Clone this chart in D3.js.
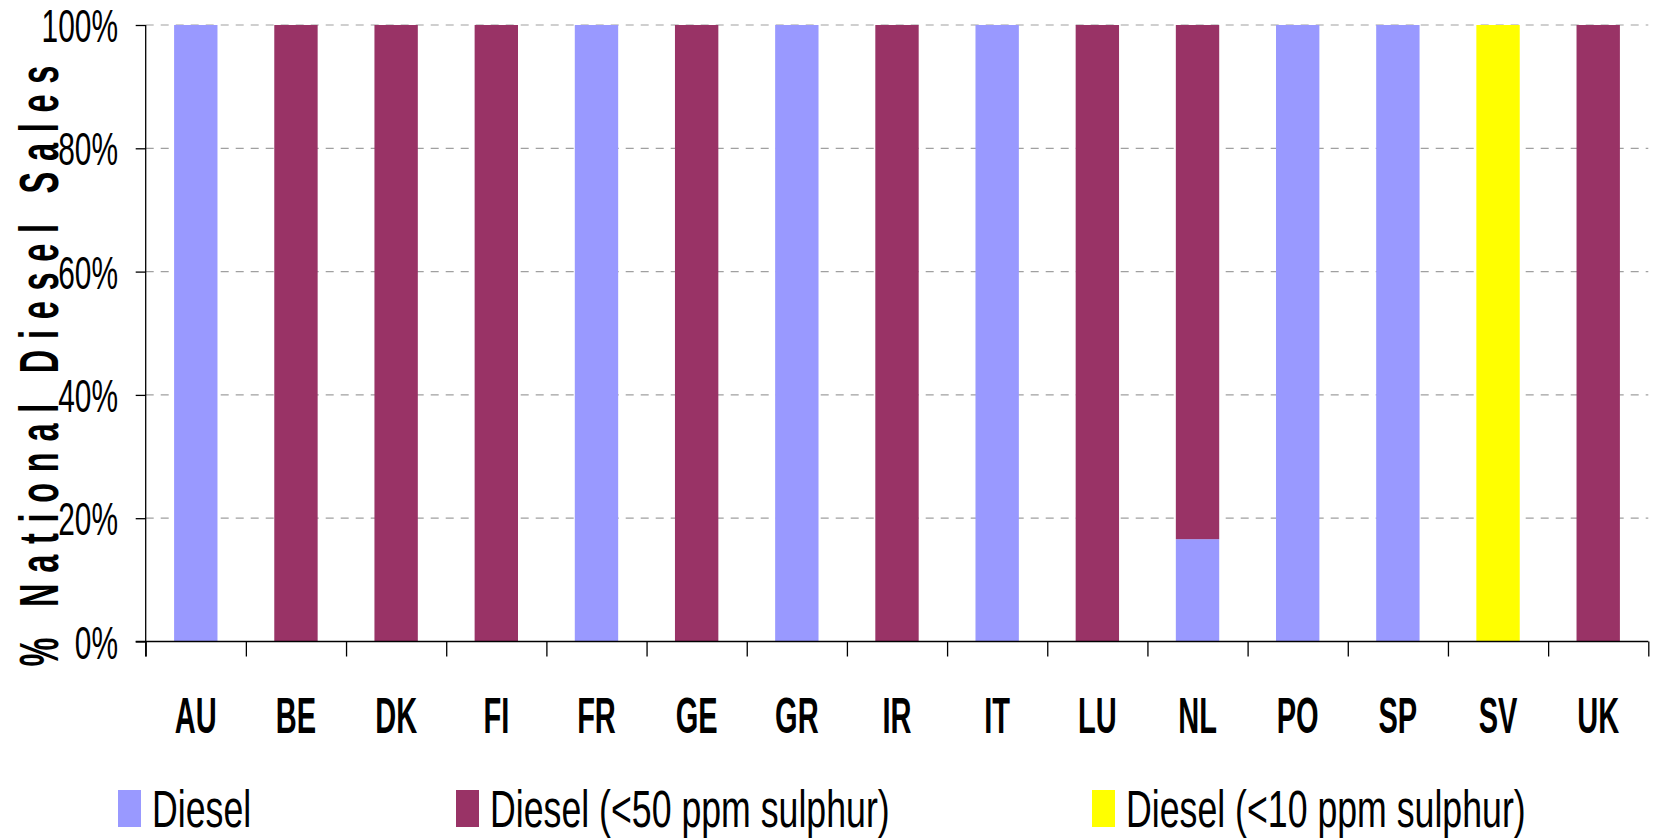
<!DOCTYPE html>
<html>
<head>
<meta charset="utf-8">
<script src="https://cdn.jsdelivr.net/npm/d3@7"></script>
<style>
  html, body { margin: 0; padding: 0; background: #fff; }
  svg { display: block; font-family: "Liberation Sans", Arial, sans-serif; }
</style>
</head>
<body>
<svg id="chart" width="1653" height="840"></svg>
<script>
// ---- data ----
const categories = ["AU","BE","DK","FI","FR","GE","GR","IR","IT","LU","NL","PO","SP","SV","UK"];
const seriesNames = ["Diesel", "Diesel (<50 ppm sulphur)", "Diesel (<10 ppm sulphur)"];
const diesel      = [100, 0, 0, 0, 100, 0, 100, 0, 100, 0, 16.6, 100, 100, 0, 0];
const diesel50    = [0, 100, 100, 100, 0, 100, 0, 100, 0, 100, 83.4, 0, 0, 0, 100];
const diesel10    = [0, 0, 0, 0, 0, 0, 0, 0, 0, 0, 0, 0, 0, 100, 0];
const yTicks      = [0, 20, 40, 60, 80, 100];
const yTitle      = "% National Diesel Sales";
const colors      = ["#9999FF", "#993366", "#FFFF00"];

const svg = d3.select("#chart");
const pLeft = 145.7, pRight = 1648.3, pTop = 25, pBottom = 641.5;

const x = d3.scaleBand().domain(categories).range([pLeft, pRight]).paddingInner(0.567).paddingOuter(0.2835);
const xEdges = d3.scaleLinear().domain([0, categories.length]).range([pLeft, pRight]);
const y = d3.scaleLinear().domain([0, 100]).range([pBottom, pTop]);

// gridlines
svg.append("g")
  .selectAll("line").data(yTicks.filter(d => d > 0)).join("line")
  .attr("x1", pLeft).attr("x2", pRight)
  .attr("y1", d => y(d)).attr("y2", d => y(d))
  .attr("stroke", "#a0a0a0").attr("stroke-width", 1.2)
  .attr("stroke-dasharray", "8,7");

// stacked bars
const rows = categories.map((c, i) => ({ cat: c, s0: diesel[i], s1: diesel50[i], s2: diesel10[i] }));
const stack = d3.stack().keys(["s0", "s1", "s2"])(rows);
svg.append("g").selectAll("g").data(stack).join("g")
  .attr("fill", (d, i) => colors[i])
  .selectAll("rect").data(d => d.filter(p => p[1] - p[0] > 0)).join("rect")
  .attr("x", d => x(d.data.cat))
  .attr("width", x.bandwidth())
  .attr("y", d => y(d[1]))
  .attr("height", d => y(d[0]) - y(d[1]));

// y axis
const yAxis = svg.append("g").attr("transform", `translate(${pLeft},0)`)
  .call(d3.axisLeft(y).tickValues(yTicks).tickSize(10).tickSizeOuter(0).tickFormat(d => d + "%"));
yAxis.select(".domain").remove();
yAxis.selectAll(".tick line").attr("stroke", "#000").attr("stroke-width", 1.3);
yAxis.selectAll(".tick text")
  .attr("x", 0).attr("dy", "0.36em")
  .attr("transform", "translate(-27.7,0) scale(0.65,1)")
  .attr("font-size", 46).attr("fill", "#000")
  .attr("font-family", "'Liberation Sans', Arial, sans-serif");
// vertical axis line (extends down to tick length)
svg.append("line").attr("x1", pLeft).attr("x2", pLeft).attr("y1", pTop).attr("y2", pBottom + 15)
  .attr("stroke", "#000").attr("stroke-width", 1.3);

// x axis: boundary ticks
const xTickAxis = svg.append("g").attr("transform", `translate(0,${pBottom})`)
  .call(d3.axisBottom(xEdges).tickValues(d3.range(categories.length + 1)).tickSize(15).tickSizeOuter(0).tickFormat(""));
xTickAxis.select(".domain").attr("stroke", "#000").attr("stroke-width", 1.6)
  .attr("d", `M${pLeft - 10},0H${pRight}`);
xTickAxis.selectAll(".tick line").attr("stroke", "#000").attr("stroke-width", 1.3);

// x axis labels
const xAxis = svg.append("g").attr("transform", `translate(0,${pBottom})`)
  .call(d3.axisBottom(x).tickSize(0));
xAxis.select(".domain").remove();
xAxis.selectAll(".tick text")
  .attr("y", 0).attr("dy", 0)
  .attr("transform", "translate(0,91.5) scale(0.58,1)")
  .attr("font-size", 50).attr("font-weight", "bold").attr("fill", "#000")
  .attr("font-family", "'Liberation Sans', Arial, sans-serif");

// y title
svg.append("text")
  .attr("transform", "translate(58,366) rotate(-90) scale(0.58,1)")
  .attr("text-anchor", "middle")
  .attr("font-size", 56).attr("font-weight", "bold")
  .attr("textLength", 1036).attr("lengthAdjust", "spacing")
  .text(yTitle);

// legend
const legendX = [118, 456, 1092];
const lg = svg.append("g").selectAll("g").data(seriesNames).join("g")
  .attr("transform", (d, i) => `translate(${legendX[i]},790)`);
lg.append("rect").attr("width", 23).attr("height", 37).attr("fill", (d, i) => colors[i]);
lg.append("text")
  .attr("transform", "translate(34,37) scale(0.7,1)")
  .attr("font-size", 51).attr("fill", "#000")
  .text(d => d);
</script>
</body>
</html>
